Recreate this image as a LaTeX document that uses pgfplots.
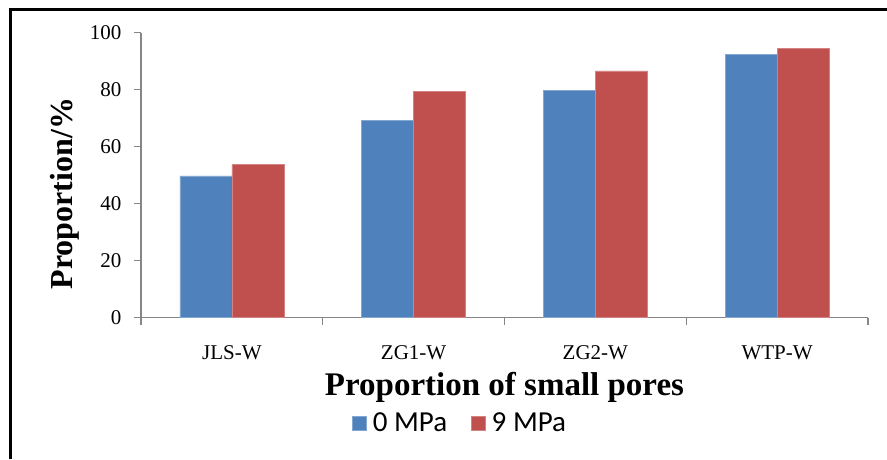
\documentclass[border=0pt]{standalone}
\usepackage{pgfplots}
\pgfplotsset{compat=1.18}
\usepackage{fontspec}
\setmainfont{Liberation Serif}
\newfontfamily\legfont{Carlito}
\definecolor{bblue}{HTML}{4F81BD}
\definecolor{bred}{HTML}{C0504D}
\definecolor{axgray}{HTML}{868686}
\begin{document}
\begin{tikzpicture}[x=1pt,y=1pt]
\useasboundingbox (0,0) rectangle (887,459);
\draw[line width=3pt,black] (10,0) -- (10,449) -- (887,449);
\begin{axis}[
  at={(141pt,141.5pt)}, anchor=south west,
  scale only axis, width=727pt, height=285pt,
  xmin=-0.5, xmax=3.5, ymin=0, ymax=100,
  axis x line*=bottom, axis y line*=left,
  axis line style={axgray, line width=1.2pt},
  x tick style={axgray, line width=1.2pt},
  y tick style={axgray, line width=1.2pt},
  tick align=outside,
  ytick={0,20,...,100},
  major tick length=7pt,
  xtick={-0.5,0.5,1.5,2.5,3.5},
  xticklabels={},
  extra x ticks={0,1,2,3},
  extra x tick labels={JLS-W,ZG1-W,ZG2-W,WTP-W},
  extra x tick style={major tick length=0pt, x tick style={draw=none}},
  /pgf/number format/assume math mode=true,
  ticklabel style={font=\fontsize{21}{24}\selectfont},
  yticklabel style={xshift=-9pt},
  xticklabel style={yshift=-25pt},
  ylabel={Proportion/\%},
  ylabel style={font=\bfseries\fontsize{32}{36}\selectfont, at={(axis description cs:-0.1045,0.435)}, anchor=center, rotate=0},
  xlabel={Proportion of small pores},
  xlabel style={font=\bfseries\fontsize{33}{36}\selectfont, at={(axis description cs:0.5,-0.244)}, anchor=center},
  ybar=0pt, bar width=0.286,
  legend columns=2,
  legend style={draw=none, fill=none, font=\legfont\fontsize{29}{31}\selectfont,
    at={(axis description cs:0.439,-0.370)}, anchor=center,
    /tikz/every even column/.append style={column sep=22pt}},
  legend image code/.code={\fill[#1] (0pt,-7pt) rectangle (14pt,7pt); \path (18pt,0pt);},
]
\addplot[fill=bblue, draw=bblue!70!white, line width=0.6pt] coordinates {(0,49.7) (1,69.1) (2,79.8) (3,92.4)};
\addplot[fill=bred, draw=bred!70!white, line width=0.6pt] coordinates {(0,53.6) (1,79.2) (2,86.5) (3,94.3)};
\legend{0 MPa, 9 MPa}
\end{axis}
\end{tikzpicture}
\end{document}
